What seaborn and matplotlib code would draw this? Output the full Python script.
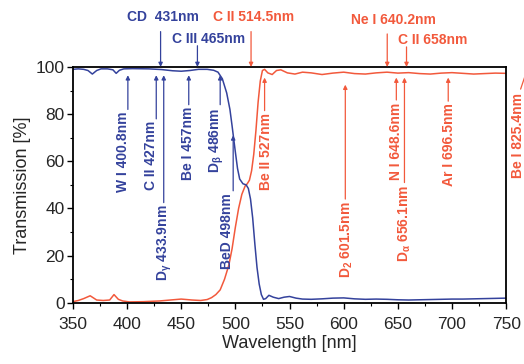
import matplotlib
matplotlib.use("Agg")
import matplotlib.pyplot as plt
import seaborn as sns
import pandas as pd

# transmission curves
wl_blue = [350, 355, 360, 364, 368, 372, 376, 382, 387, 390, 393, 397, 405, 420, 432, 442, 450, 458,
           466, 474, 480, 484, 488, 492, 495, 497, 500, 502, 504, 507, 510, 512, 514, 516, 518, 520,
           522, 524, 526, 528, 531, 535, 540, 545, 550, 556, 562, 570, 580, 590, 600, 610, 620, 630,
           640, 650, 660, 670, 680, 690, 700, 710, 720, 730, 740, 750]
t_blue = [99.0, 99.2, 99.0, 98.5, 97.0, 98.5, 99.2, 99.2, 98.8, 97.3, 98.6, 99.2, 99.3, 99.2, 98.9, 98.4,
          98.2, 98.5, 99.0, 99.0, 98.6, 97.8, 95.0, 89.0, 82.0, 75.0, 64.0, 57.0, 52.5, 50.5, 50.0, 48.5,
          44.0, 36.0, 25.0, 15.0, 8.0, 3.5, 1.5, 1.8, 3.2, 2.4, 1.8, 2.4, 2.7, 2.0, 1.6, 1.5, 1.7, 2.0,
          2.1, 1.7, 1.5, 1.6, 1.5, 1.3, 1.2, 1.3, 1.4, 1.5, 1.6, 1.6, 1.7, 1.8, 1.9, 2.0]

wl_red = [350, 355, 360, 366, 372, 378, 384, 388, 392, 396, 402, 415, 430, 440, 450, 460, 468, 474,
          478, 482, 486, 490, 494, 497, 500, 503, 506, 509, 511, 513, 515, 517, 519, 521, 523, 525,
          527, 530, 534, 538, 542, 548, 555, 562, 570, 580, 590, 600, 610, 620, 630, 640, 650, 660,
          670, 680, 690, 700, 710, 720, 730, 740, 750]
t_red = [0.5, 1.0, 1.8, 3.0, 1.2, 1.0, 1.2, 3.5, 1.5, 0.8, 0.4, 0.5, 0.8, 1.2, 1.6, 1.2, 1.0, 1.4,
         2.2, 3.5, 5.5, 10.0, 16.0, 23.0, 32.0, 40.0, 46.0, 49.5, 50.5, 52.0, 56.0, 63.0, 73.0, 85.0,
         94.0, 98.5, 99.0, 97.5, 96.8, 98.5, 98.8, 97.5, 97.0, 97.8, 97.5, 96.8, 97.4, 97.8, 97.2,
         97.0, 97.5, 97.8, 97.4, 97.6, 97.2, 97.0, 97.4, 97.6, 97.3, 97.0, 97.2, 97.4, 97.3]

# emission lines marked inside the plot: label, wavelength, colour key
in_labels = ['W I 400.8nm', 'C II 427nm', r'D$_\gamma$ 433.9nm', 'Be I 457nm', r'D$_\beta$ 486nm',
             'BeD 498nm', 'Be II 527nm', r'D$_2$ 601.5nm', 'N I 648.6nm', r'D$_\alpha$ 656.1nm',
             'Ar I 696.5nm']
in_wl = [400.8, 427, 433.9, 457, 486, 498, 527, 601.5, 648.6, 656.1, 696.5]
in_col = ['b', 'b', 'b', 'b', 'b', 'b', 'r', 'r', 'r', 'r', 'r']

# emission lines marked above the plot
top_labels = ['CD  431nm', 'C III 465nm', 'C II 514.5nm', 'Ne I 640.2nm', 'C II 658nm']
top_wl = [431, 465, 514.5, 640.2, 658]
top_col = ['b', 'b', 'r', 'r', 'r']

BLUE = '#34429c'
RED = '#f2593c'
cols = {'b': BLUE, 'r': RED}

# layout of the labels (text centre x, text top y, arrow tip y)
in_tx = [396.5, 422, 434.5, 456, 483, 492, 528.5, 603, 648.4, 656.7, 697.3]
in_ty = [81, 77, 41.5, 83, 83, 46.5, 80.5, 43, 85, 50, 84.5]
in_tip = [96.5, 96.5, 96.5, 96.5, 96.5, 71, 95.5, 92.5, 95.5, 95.5, 95.5]
top_tx = [433.5, 475.5, 517, 645.5, 682]
top_ty = [121, 112, 121, 120, 111.5]

df_b = pd.DataFrame({'wl': wl_blue, 't': t_blue})
df_r = pd.DataFrame({'wl': wl_red, 't': t_red})

sns.set_style('ticks')
plt.rcParams['font.family'] = ['Liberation Sans', 'DejaVu Sans']
plt.rcParams['mathtext.fontset'] = 'custom'
plt.rcParams['mathtext.rm'] = 'Liberation Sans:bold'
plt.rcParams['mathtext.it'] = 'Liberation Sans:bold'
plt.rcParams['mathtext.bf'] = 'Liberation Sans:bold'

fig = plt.figure(figsize=(5.24, 3.64), dpi=100)
ax = fig.add_axes([0.139, 0.168, 0.827, 0.648])

sns.lineplot(data=df_r, x='wl', y='t', color=RED, lw=1.1, ax=ax)
sns.lineplot(data=df_b, x='wl', y='t', color=BLUE, lw=1.1, ax=ax)

ax.set_xlim(350, 750)
ax.set_ylim(0, 100)
ax.set_xticks(range(350, 751, 50))
ax.set_xticks(range(350, 751, 25), minor=True)
ax.set_yticks(range(0, 101, 20))
ax.set_yticks(range(0, 101, 10), minor=True)
ax.tick_params(which='major', length=4, width=1, labelsize=12.5, pad=2, color='black')
ax.tick_params(axis='x', which='major', pad=6)
ax.tick_params(which='minor', length=2.5, width=0.8, color='black')
for s in ax.spines.values():
    s.set_color('black')
    s.set_linewidth(1.3)
ax.set_xlabel('Wavelength [nm]', fontsize=13, labelpad=2)
ax.set_ylabel('Transmission [%]', fontsize=13, labelpad=3)

aprops = dict(arrowstyle='-|>', lw=0.9, mutation_scale=6, shrinkA=0, shrinkB=0)

for lab, w, c, tx, ty, tip in zip(in_labels, in_wl, in_col, in_tx, in_ty, in_tip):
    col = cols[c]
    ax.text(tx, ty, lab, rotation=90, ha='center', va='top', color=col,
            fontsize=10, fontweight='bold')
    ax.annotate('', xy=(w, tip), xytext=(w, ty + 1),
                arrowprops=dict(aprops, color=col))

for lab, w, c, tx, ty in zip(top_labels, top_wl, top_col, top_tx, top_ty):
    col = cols[c]
    ax.text(tx, ty, lab, ha='center', va='center', color=col, fontsize=10,
            fontweight='bold', clip_on=False)
    ax.annotate('', xy=(w, 100), xytext=(w, ty - 6 if ty > 115 else ty - 3),
                arrowprops=dict(aprops, color=col), annotation_clip=False)

# Be I 825.4nm lies beyond the axis, drawn outside on the right
ax.text(761, 89, 'Be I 825.4nm', rotation=90, ha='center', va='top', color=RED,
        fontsize=10, fontweight='bold', clip_on=False)
ax.annotate('', xy=(768, 97), xytext=(762.5, 89.5),
            arrowprops=dict(arrowstyle='-', lw=0.9, color=RED), annotation_clip=False)

fig.savefig('out.png', dpi=100)
